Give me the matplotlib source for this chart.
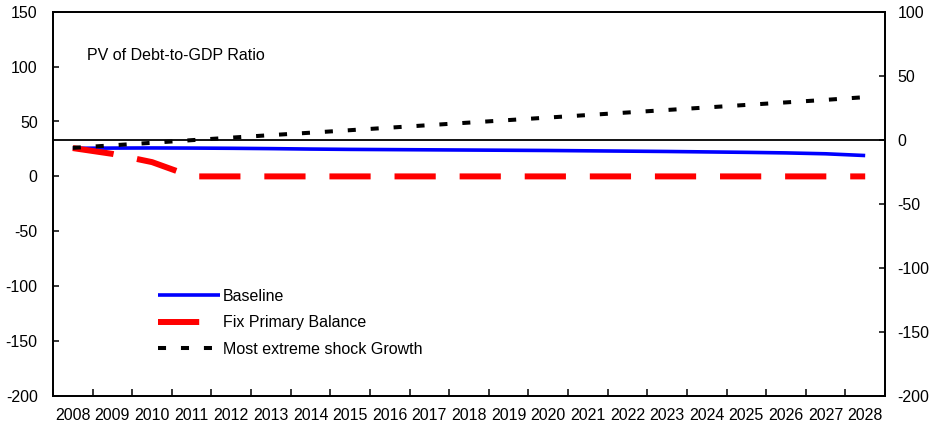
import numpy as np
import matplotlib.pyplot as plt
from matplotlib.ticker import MultipleLocator

plt.rcParams['font.family'] = ['Liberation Sans', 'DejaVu Sans']
plt.rcParams['axes.unicode_minus'] = False

years = [str(y) for y in range(2008, 2029)]
baseline = [25.6, 25.8, 25.9, 25.8, 25.6, 25.3, 24.9, 24.6, 24.4, 24.2, 24.0,
            23.8, 23.6, 23.3, 23.0, 22.7, 22.3, 21.9, 21.4, 20.6, 19.0]
fix_primary = [25.8, 20.5, 13.0, 0, 0, 0, 0, 0, 0, 0, 0,
               0, 0, 0, 0, 0, 0, 0, 0, 0, 0]
extreme_growth = [26.0, 28.3, 30.6, 33.0, 35.3, 37.6, 39.8, 42.1, 44.4, 46.7, 49.0,
                  51.3, 53.6, 55.9, 58.2, 60.5, 62.8, 65.1, 67.4, 69.7, 72.2]

fs = 11.5
fig = plt.figure(figsize=(9.34, 4.32), dpi=100)
ax = fig.add_axes([53/934, 1-396/432, 832/934, 384.3/432])
x = np.arange(len(years))

ax.plot(x, baseline, color='#0000ff', lw=2.6, label='Baseline', solid_capstyle='butt')
ax.plot(x, fix_primary, color='#ff0000', lw=4.3, dashes=(6.9, 4.0),
        label='Fix Primary Balance')
ax.plot(x, extreme_growth, color='black', lw=2.9, dashes=(2.0, 3.7),
        label='Most extreme shock Growth')

ax.set_xlim(-0.5, len(years) - 0.5)
ax.set_ylim(-200, 150)
ax.yaxis.set_major_locator(MultipleLocator(50))
ax.set_xticks(x)
ax.set_xticklabels(years)
ax.set_xticks(np.arange(-0.5, len(years)), minor=True)
ax.tick_params(axis='x', which='major', length=0, pad=9, labelsize=fs)
ax.tick_params(axis='x', which='minor', direction='in', length=5, width=1.1)
ax.tick_params(axis='y', direction='in', length=4, width=1.1, pad=11, labelsize=fs)
for s in ax.spines.values():
    s.set_linewidth(1.3)

ax2 = ax.twinx()
ax2.set_ylim(-200, 100)
ax2.yaxis.set_major_locator(MultipleLocator(50))
ax2.tick_params(axis='y', direction='in', length=4, width=1.1, pad=9, labelsize=fs)
ax2.axhline(0, color='black', lw=1.3)
for s in ax2.spines.values():
    s.set_linewidth(1.3)

ax.text(0.041, 0.885, 'PV of Debt-to-GDP Ratio', transform=ax.transAxes,
        fontsize=fs, va='center', ha='left')

ax.legend(loc='upper left', bbox_to_anchor=((158-53)/832, (396-289)/384.3),
          frameon=False, fontsize=fs, handlelength=3.9, handletextpad=0.15,
          borderpad=0, borderaxespad=0, labelspacing=0.72)

fig.savefig('out.png', dpi=100)
